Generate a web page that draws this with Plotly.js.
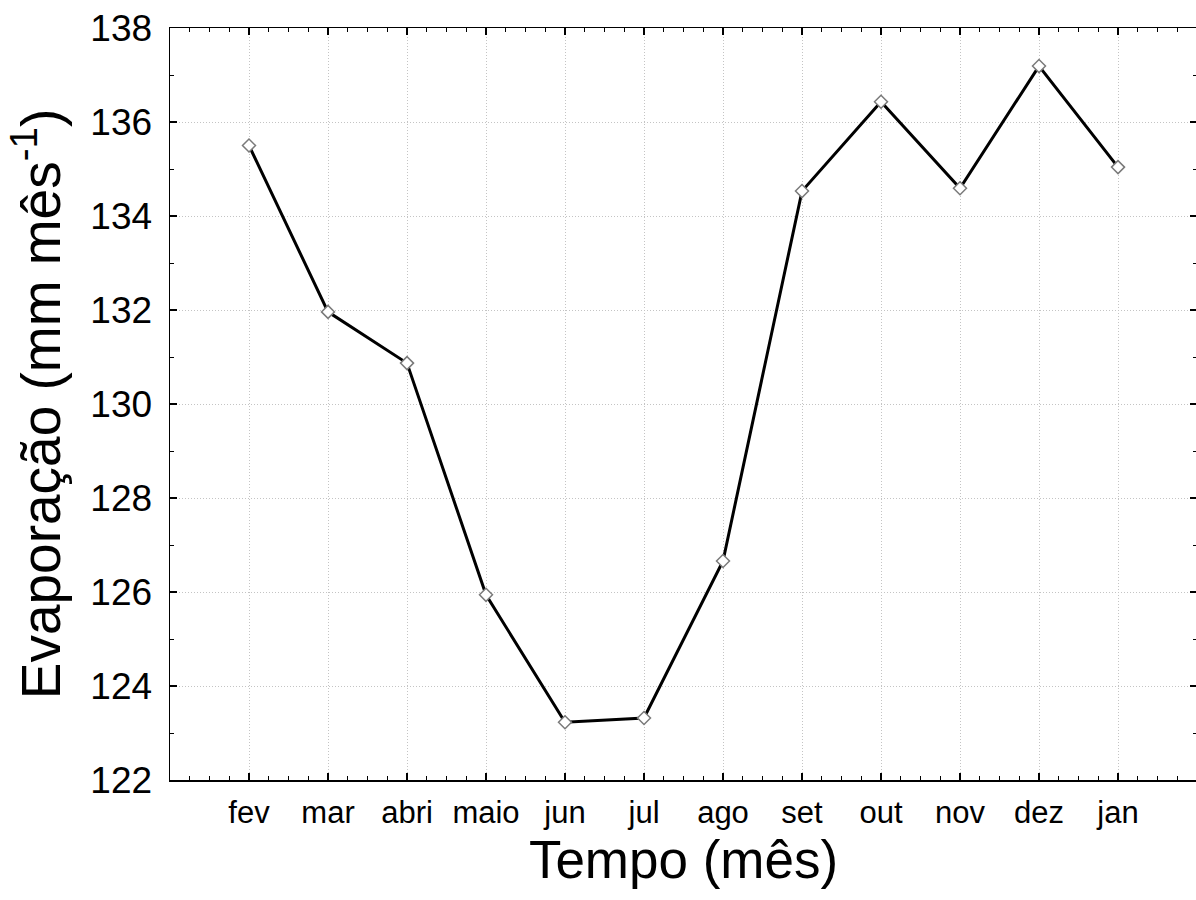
<!DOCTYPE html>
<html>
<head>
<meta charset="utf-8">
<script src="https://cdn.plot.ly/plotly-3.0.1.min.js"></script>
<style>
html, body { margin: 0; padding: 0; overflow: hidden; background: #fff; }
#chart { width: 1197px; height: 900px; }
</style>
</head>
<body>
<div id="chart"></div>
<script>
const months = ["fev", "mar", "abri", "maio", "jun", "jul", "ago", "set", "out", "nov", "dez", "jan"];
const evaporation = [135.50, 131.96, 130.87, 125.94, 123.23, 123.32, 126.66, 134.53, 136.43, 134.59, 137.19, 135.04];
const yTicks = [122, 124, 126, 128, 130, 132, 134, 136, 138];
const xTitle = "Tempo (mês)";
const yTitle = "Evaporação (mm mês<sup>-1</sup>)";

const idx = months.map((m, i) => i);
const FONT = '"Liberation Sans", Arial, sans-serif';

const trace = {
  x: idx,
  y: evaporation,
  type: 'scatter',
  mode: 'lines+markers',
  line: { color: '#000000', width: 3 },
  marker: { symbol: 'diamond', size: 10, color: '#ffffff', line: { color: '#7a7a7a', width: 1.5 } },
  hoverinfo: 'x+y'
};

const axisCommon = {
  showline: true,
  linecolor: '#000000',
  linewidth: 1.5,
  mirror: 'ticks',
  ticks: 'inside',
  tickcolor: '#000000',
  tickwidth: 1.2,
  ticklen: 7,
  showgrid: true,
  gridcolor: '#c4c4c4',
  gridwidth: 1,
  griddash: '1px,2px',
  zeroline: false
};

const layout = {
  width: 1197,
  height: 900,
  margin: { l: 170, r: 0, t: 28, b: 120 },
  paper_bgcolor: '#ffffff',
  plot_bgcolor: '#ffffff',
  showlegend: false,
  font: { family: FONT, color: '#000000' },
  xaxis: Object.assign({}, axisCommon, {
    range: [-1, 12],
    tickmode: 'array',
    tickvals: idx,
    ticktext: months,
    tickfont: { family: FONT, size: 31, color: '#000' },
    ticklabelstandoff: 4,
    minor: { dtick: 0.25, tick0: 0, ticks: 'inside', ticklen: 4, tickcolor: '#000', tickwidth: 1, showgrid: false },
    title: { text: xTitle, font: { family: FONT, size: 53, color: '#000' }, standoff: 12 }
  }),
  yaxis: Object.assign({}, axisCommon, {
    range: [122, 138],
    tickmode: 'array',
    tickvals: yTicks,
    ticktext: yTicks.map(String),
    tickfont: { family: FONT, size: 37, color: '#000' },
    ticklabelstandoff: 9,
    minor: { dtick: 1, tick0: 122, ticks: 'inside', ticklen: 4, tickcolor: '#000', tickwidth: 1, showgrid: false },
    title: { text: yTitle, font: { family: FONT, size: 55, color: '#000' }, standoff: 12 }
  })
};

Plotly.newPlot('chart', [trace], layout, { displayModeBar: false, staticPlot: true });
</script>
</body>
</html>
